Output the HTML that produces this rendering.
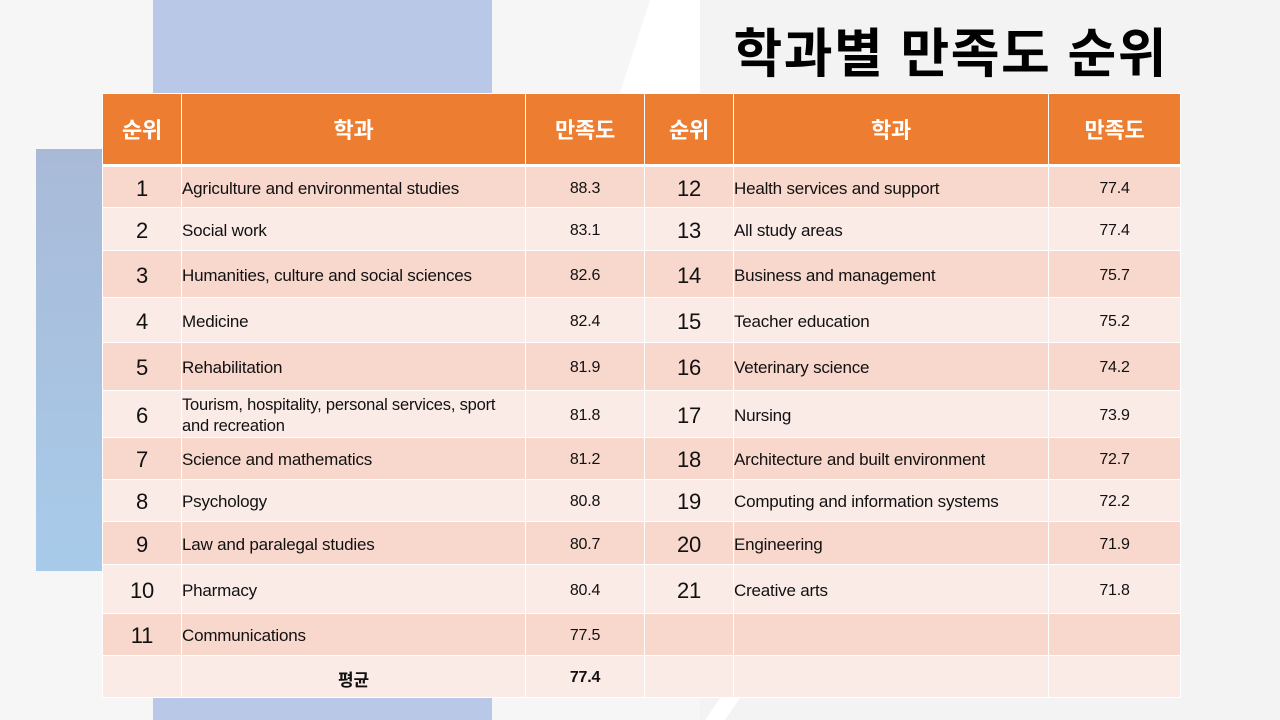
<!DOCTYPE html>
<html><head><meta charset="utf-8"><style>
body{margin:0;width:1280px;height:720px;overflow:hidden;background:#f6f6f6;position:relative;font-family:"Liberation Sans","Noto Sans CJK KR",sans-serif}
.abs{position:absolute}
table{position:absolute;left:102px;top:93px;border-collapse:collapse;table-layout:fixed}
td,th{border:1px solid #fff;padding:3px 0 0 0;font-size:17px;color:#111;letter-spacing:-0.2px}
th{background:#ed7d31;color:#fff;font-size:22px;font-weight:bold;height:70px;border-bottom:3px solid #fff;padding:0}
tr.o td{background:#f8d7cd}
tr.e td{background:#fbebe7}
td.r{text-align:center;font-size:22px}
td.v{text-align:center;font-size:16px}
</style></head><body>
<svg class="abs" style="left:0;top:0" width="1280" height="720">
<polygon points="700,0 1280,0 1280,720 700,720" fill="#f3f3f3"/>
<polygon points="650,0 700,0 700,93 620,93" fill="#fff"/>
<polygon points="720,698 740,698 725,720 705,720" fill="#fff"/>
<rect x="153" y="0" width="339" height="93" fill="#b8c8e6"/>
<rect x="153" y="698" width="339" height="22" fill="#b8c8e6"/>
<defs><linearGradient id="g" x1="0" y1="0" x2="0" y2="1"><stop offset="0" stop-color="#a9bad7"/><stop offset="1" stop-color="#a8cbea"/></linearGradient></defs>
<rect x="36" y="149" width="66" height="422" fill="url(#g)"/>
</svg>
<div class="abs" style="right:112px;top:12px;font-size:53px;font-weight:bold;color:#000;letter-spacing:1.5px">학과별 만족도 순위</div>
<table>
<colgroup><col style="width:79px"><col style="width:344px"><col style="width:119px"><col style="width:89px"><col style="width:315px"><col style="width:132px"></colgroup>
<tr><th>순위</th><th>학과</th><th>만족도</th><th>순위</th><th>학과</th><th>만족도</th></tr>
<tr class="o" style="height:42px"><td class="r">1</td><td>Agriculture and environmental studies</td><td class="v">88.3</td><td class="r">12</td><td>Health services and support</td><td class="v">77.4</td></tr>
<tr class="e" style="height:43px"><td class="r">2</td><td>Social work</td><td class="v">83.1</td><td class="r">13</td><td>All study areas</td><td class="v">77.4</td></tr>
<tr class="o" style="height:47px"><td class="r">3</td><td>Humanities, culture and social sciences</td><td class="v">82.6</td><td class="r">14</td><td>Business and management</td><td class="v">75.7</td></tr>
<tr class="e" style="height:45px"><td class="r">4</td><td>Medicine</td><td class="v">82.4</td><td class="r">15</td><td>Teacher education</td><td class="v">75.2</td></tr>
<tr class="o" style="height:48px"><td class="r">5</td><td>Rehabilitation</td><td class="v">81.9</td><td class="r">16</td><td>Veterinary science</td><td class="v">74.2</td></tr>
<tr class="e" style="height:47px"><td class="r">6</td><td style="line-height:21px;font-size:16.5px">Tourism, hospitality, personal services, sport and recreation</td><td class="v">81.8</td><td class="r">17</td><td>Nursing</td><td class="v">73.9</td></tr>
<tr class="o" style="height:42px"><td class="r">7</td><td>Science and mathematics</td><td class="v">81.2</td><td class="r">18</td><td>Architecture and built environment</td><td class="v">72.7</td></tr>
<tr class="e" style="height:42px"><td class="r">8</td><td>Psychology</td><td class="v">80.8</td><td class="r">19</td><td>Computing and information systems</td><td class="v">72.2</td></tr>
<tr class="o" style="height:43px"><td class="r">9</td><td>Law and paralegal studies</td><td class="v">80.7</td><td class="r">20</td><td>Engineering</td><td class="v">71.9</td></tr>
<tr class="e" style="height:49px"><td class="r">10</td><td>Pharmacy</td><td class="v">80.4</td><td class="r">21</td><td>Creative arts</td><td class="v">71.8</td></tr>
<tr class="o" style="height:42px"><td class="r">11</td><td>Communications</td><td class="v">77.5</td><td></td><td></td><td></td></tr>
<tr class="e" style="height:42px"><td></td><td style="text-align:center;font-weight:bold">평균</td><td class="v" style="font-weight:bold">77.4</td><td></td><td></td><td></td></tr>
</table>
</body></html>
